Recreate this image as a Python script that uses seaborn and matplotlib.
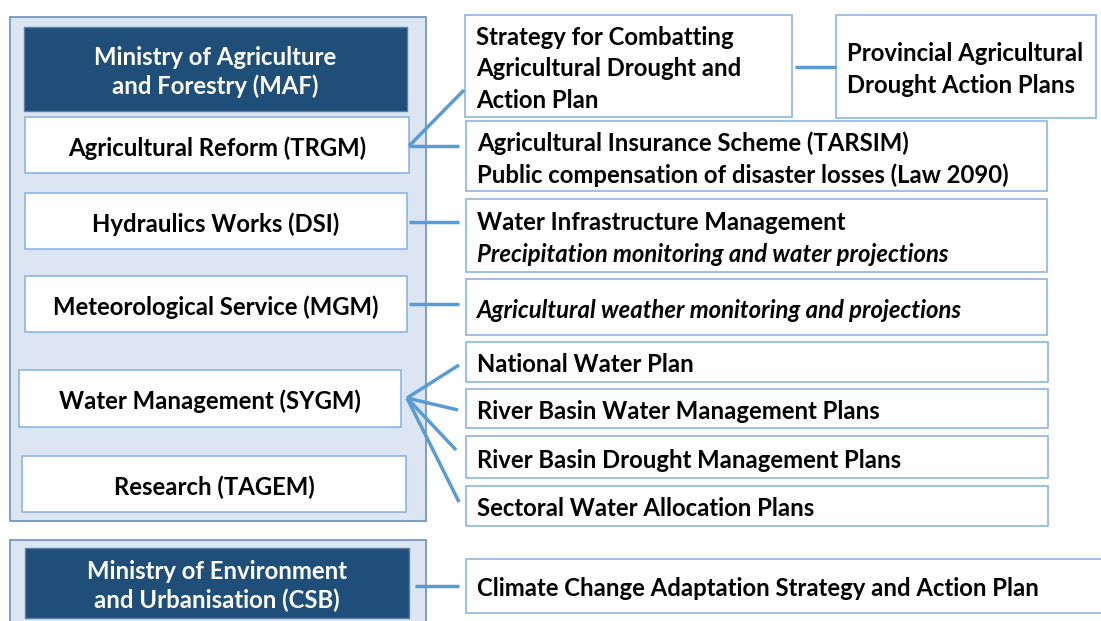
import matplotlib.pyplot as plt
import matplotlib.patches as mpatches
import seaborn as sns

# =========================================================
# DATA
# =========================================================
panel_boxes = [(10, 17, 416, 504), (10, 540, 416, 90)]

header_labels = ["Ministry of Agriculture\nand Forestry (MAF)",
                 "Ministry of Environment\nand Urbanisation (CSB)"]
header_boxes = [(24, 27, 383, 84), (25, 548, 384, 70)]

agency_labels = ["Agricultural Reform (TRGM)", "Hydraulics Works (DSI)",
                 "Meteorological Service (MGM)", "Water Management (SYGM)",
                 "Research (TAGEM)"]
agency_boxes = [(25, 117, 384, 56), (25, 193, 382, 56), (25, 276, 382, 56),
                (19, 370, 382, 57), (22, 456, 384, 56)]

# each right box: list of (text, italic)
plan_labels = [
    [("Strategy for Combatting", False), ("Agricultural Drought and", False), ("Action Plan", False)],
    [("Provincial Agricultural", False), ("Drought Action Plans", False)],
    [("Agricultural Insurance Scheme (TARSIM)", False),
     ("Public compensation of disaster losses (Law 2090)", False)],
    [("Water Infrastructure Management", False),
     ("Precipitation monitoring and water projections", True)],
    [("Agricultural weather monitoring and projections", True)],
    [("National Water Plan", False)],
    [("River Basin Water Management Plans", False)],
    [("River Basin Drought Management Plans", False)],
    [("Sectoral Water Allocation Plans", False)],
    [("Climate Change Adaptation Strategy and Action Plan", False)],
]
plan_boxes = [(465, 15, 327, 102), (836, 15, 260, 103), (466, 121, 581, 70),
              (466, 199, 581, 73), (466, 279, 581, 56), (466, 342, 582, 40),
              (466, 389, 582, 39), (466, 436, 582, 42), (466, 486, 582, 40),
              (466, 559, 640, 54)]

connectors = [
    ((409, 146), (464, 90)), ((409, 146), (459, 146)),
    ((409, 222), (459, 222)), ((409, 304), (459, 304)),
    ((407, 398), (459, 365)), ((407, 398), (458, 410)),
    ((407, 398), (456, 450)), ((407, 398), (459, 502)),
    ((795, 67), (836, 67)), ((415, 586), (459, 586)),
]

# =========================================================
# STYLE
# =========================================================
sns.set_theme(style="white")
plt.rcParams["font.family"] = ["Lato", "DejaVu Sans"]

fig = plt.figure(figsize=(11.01, 6.21), dpi=100)
ax = fig.add_axes([0, 0, 1, 1])
ax.set_xlim(0, 1101)
ax.set_ylim(621, 0)
ax.axis("off")

dark = "#1F4E79"
panel_fill = "#DCE6F2"
panel_edge = "#6E8FB8"
box_edge = "#8DB4E2"
line_c = "#5B9BD5"
fs = 17.2
dy = 3  # text sits a bit low in the boxes

def rect(b, fc, ec, lw=1.2, z=1):
    x, y, w, h = b
    ax.add_patch(mpatches.Rectangle((x, y), w, h, facecolor=fc, edgecolor=ec,
                                    linewidth=lw, zorder=z))

for b in panel_boxes:
    rect(b, panel_fill, panel_edge, 1.2, 1)

for lab, b in zip(header_labels, header_boxes):
    rect(b, dark, "#5B7FA8", 1.0, 2)
    x, y, w, h = b
    ax.text(x + w / 2, y + h / 2 + dy, lab, ha="center", va="center", color="white",
            fontsize=fs, fontweight="bold", linespacing=1.3, zorder=3)

for lab, b in zip(agency_labels, agency_boxes):
    rect(b, "white", box_edge, 1.2, 2)
    x, y, w, h = b
    ax.text(x + w / 2, y + h / 2 + dy, lab, ha="center", va="center", color="black",
            fontsize=fs, fontweight="bold", zorder=3)

line_h = 31.5
for lines, b in zip(plan_labels, plan_boxes):
    rect(b, "white", box_edge, 1.2, 2)
    x, y, w, h = b
    n = len(lines)
    y0 = y + h / 2 - (n - 1) * line_h / 2 + dy
    for i, (t, it) in enumerate(lines):
        ax.text(x + 11, y0 + i * line_h, t, ha="left", va="center", color="black",
                fontsize=fs, fontweight="bold", style="italic" if it else "normal",
                zorder=3)

for (p0, p1) in connectors:
    ax.plot([p0[0], p1[0]], [p0[1], p1[1]], color=line_c, linewidth=2.5,
            solid_capstyle="butt", zorder=4)

plt.savefig("out.png", dpi=100)
